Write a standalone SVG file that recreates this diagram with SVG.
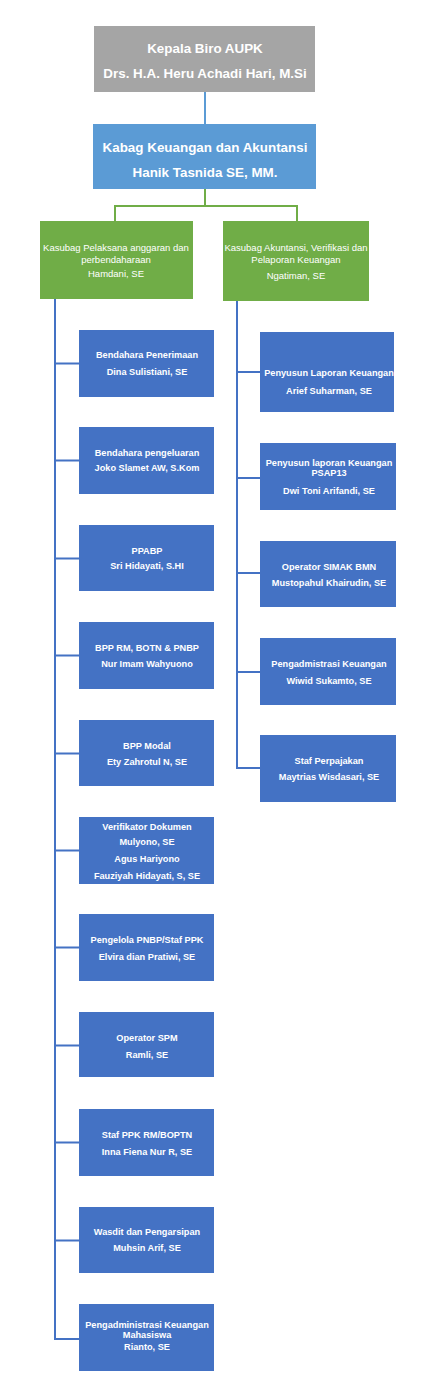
<svg xmlns="http://www.w3.org/2000/svg" width="424" height="1395" viewBox="0 0 424 1395">
<style>
text{font-family:"Liberation Sans",Arial,sans-serif;fill:#fff;text-anchor:middle;dominant-baseline:central}
.t{font-size:13.4px;font-weight:bold}
.g{font-size:9.5px}
.b{font-size:9.2px;font-weight:bold}
.nb{fill:#4472c4}
.cb{stroke:#4472c4;stroke-width:2;fill:none}
.cg{stroke:#70ad47;stroke-width:2;fill:none}
</style>
<rect width="424" height="1395" fill="#fff"/>
<g id="connectors">
<path d="M205 92V124" stroke="#5b9bd5" stroke-width="2" fill="none"/>
<path class="cg" d="M205 189V206M115 221V206H297V221"/>
<path class="cb" d="M55 299V1339H79M55 363.5H79M55 460.5H79M55 558.5H79M55 655.5H79M55 753.5H79M55 850.5H79M55 947.5H79M55 1045.5H79M55 1142.5H79M55 1240.5H79"/>
<path class="cb" d="M237 301V768H260M237 372H260M237 478H260M237 573H260M237 672H260"/>
</g>
<g id="kepala"><rect x="94" y="26" width="221" height="66" fill="#a5a5a5"/><text class="t" x="205" y="48">Kepala Biro AUPK</text><text class="t" x="205" y="73">Drs. H.A. Heru Achadi Hari, M.Si</text></g>
<g id="kabag"><rect x="93" y="124" width="223" height="65" fill="#5b9bd5"/><text class="t" x="205" y="147">Kabag Keuangan dan Akuntansi</text><text class="t" x="205" y="172">Hanik Tasnida SE, MM.</text></g>
<g id="kasubag1"><rect x="40" y="221" width="153" height="78" fill="#70ad47"/><text class="g" x="116" y="247">Kasubag Pelaksana anggaran dan</text><text class="g" x="116" y="259">perbendaharaan</text><text class="g" x="116" y="273">Hamdani, SE</text></g>
<g id="kasubag2"><rect x="223" y="221" width="146" height="80" fill="#70ad47"/><text class="g" x="296" y="247">Kasubag Akuntansi, Verifikasi dan</text><text class="g" x="296" y="259">Pelaporan Keuangan</text><text class="g" x="296" y="275">Ngatiman, SE</text></g>
<g id="l1"><rect class="nb" x="79" y="330" width="135" height="67"/><text class="b" x="147" y="355">Bendahara Penerimaan</text><text class="b" x="147" y="372">Dina Sulistiani, SE</text></g>
<g id="l2"><rect class="nb" x="79" y="427" width="135" height="67"/><text class="b" x="147" y="453">Bendahara pengeluaran</text><text class="b" x="147" y="468">Joko Slamet AW, S.Kom</text></g>
<g id="l3"><rect class="nb" x="79" y="525" width="135" height="66"/><text class="b" x="147" y="551">PPABP</text><text class="b" x="147" y="566">Sri Hidayati, S.HI</text></g>
<g id="l4"><rect class="nb" x="79" y="622" width="135" height="67"/><text class="b" x="147" y="648">BPP RM, BOTN &amp; PNBP</text><text class="b" x="147" y="664">Nur Imam Wahyuono</text></g>
<g id="l5"><rect class="nb" x="79" y="720" width="135" height="66"/><text class="b" x="147" y="746">BPP Modal</text><text class="b" x="147" y="762">Ety Zahrotul N, SE</text></g>
<g id="l6"><rect class="nb" x="79" y="817" width="135" height="67"/><text class="b" x="147" y="827">Verifikator Dokumen</text><text class="b" x="147" y="842">Mulyono, SE</text><text class="b" x="147" y="859">Agus Hariyono</text><text class="b" x="147" y="876">Fauziyah Hidayati, S, SE</text></g>
<g id="l7"><rect class="nb" x="79" y="914" width="135" height="67"/><text class="b" x="147" y="940">Pengelola PNBP/Staf PPK</text><text class="b" x="147" y="957">Elvira dian Pratiwi, SE</text></g>
<g id="l8"><rect class="nb" x="79" y="1012" width="135" height="65"/><text class="b" x="147" y="1038">Operator SPM</text><text class="b" x="147" y="1055">Ramli, SE</text></g>
<g id="l9"><rect class="nb" x="79" y="1109" width="135" height="67"/><text class="b" x="147" y="1135">Staf PPK RM/BOPTN</text><text class="b" x="147" y="1152">Inna Fiena Nur R, SE</text></g>
<g id="l10"><rect class="nb" x="79" y="1207" width="135" height="66"/><text class="b" x="147" y="1232">Wasdit dan Pengarsipan</text><text class="b" x="147" y="1248">Muhsin Arif, SE</text></g>
<g id="l11"><rect class="nb" x="79" y="1304" width="135" height="67"/><text class="b" x="147" y="1325">Pengadministrasi Keuangan</text><text class="b" x="147" y="1335">Mahasiswa</text><text class="b" x="147" y="1347">Rianto, SE</text></g>
<g id="r1"><rect class="nb" x="260" y="332" width="134" height="80"/><text class="b" x="329" y="373">Penyusun Laporan Keuangan</text><text class="b" x="329" y="391">Arief Suharman, SE</text></g>
<g id="r2"><rect class="nb" x="260" y="443" width="136" height="67"/><text class="b" x="329" y="463">Penyusun laporan Keuangan</text><text class="b" x="329" y="473">PSAP13</text><text class="b" x="329" y="491">Dwi Toni Arifandi, SE</text></g>
<g id="r3"><rect class="nb" x="260" y="541" width="136" height="66"/><text class="b" x="329" y="567">Operator SIMAK BMN</text><text class="b" x="329" y="583">Mustopahul Khairudin, SE</text></g>
<g id="r4"><rect class="nb" x="260" y="638" width="136" height="67"/><text class="b" x="329" y="664">Pengadmistrasi Keuangan</text><text class="b" x="329" y="681">Wiwid Sukamto, SE</text></g>
<g id="r5"><rect class="nb" x="260" y="735" width="136" height="67"/><text class="b" x="329" y="761">Staf Perpajakan</text><text class="b" x="329" y="777">Maytrias Wisdasari, SE</text></g>
</svg>
